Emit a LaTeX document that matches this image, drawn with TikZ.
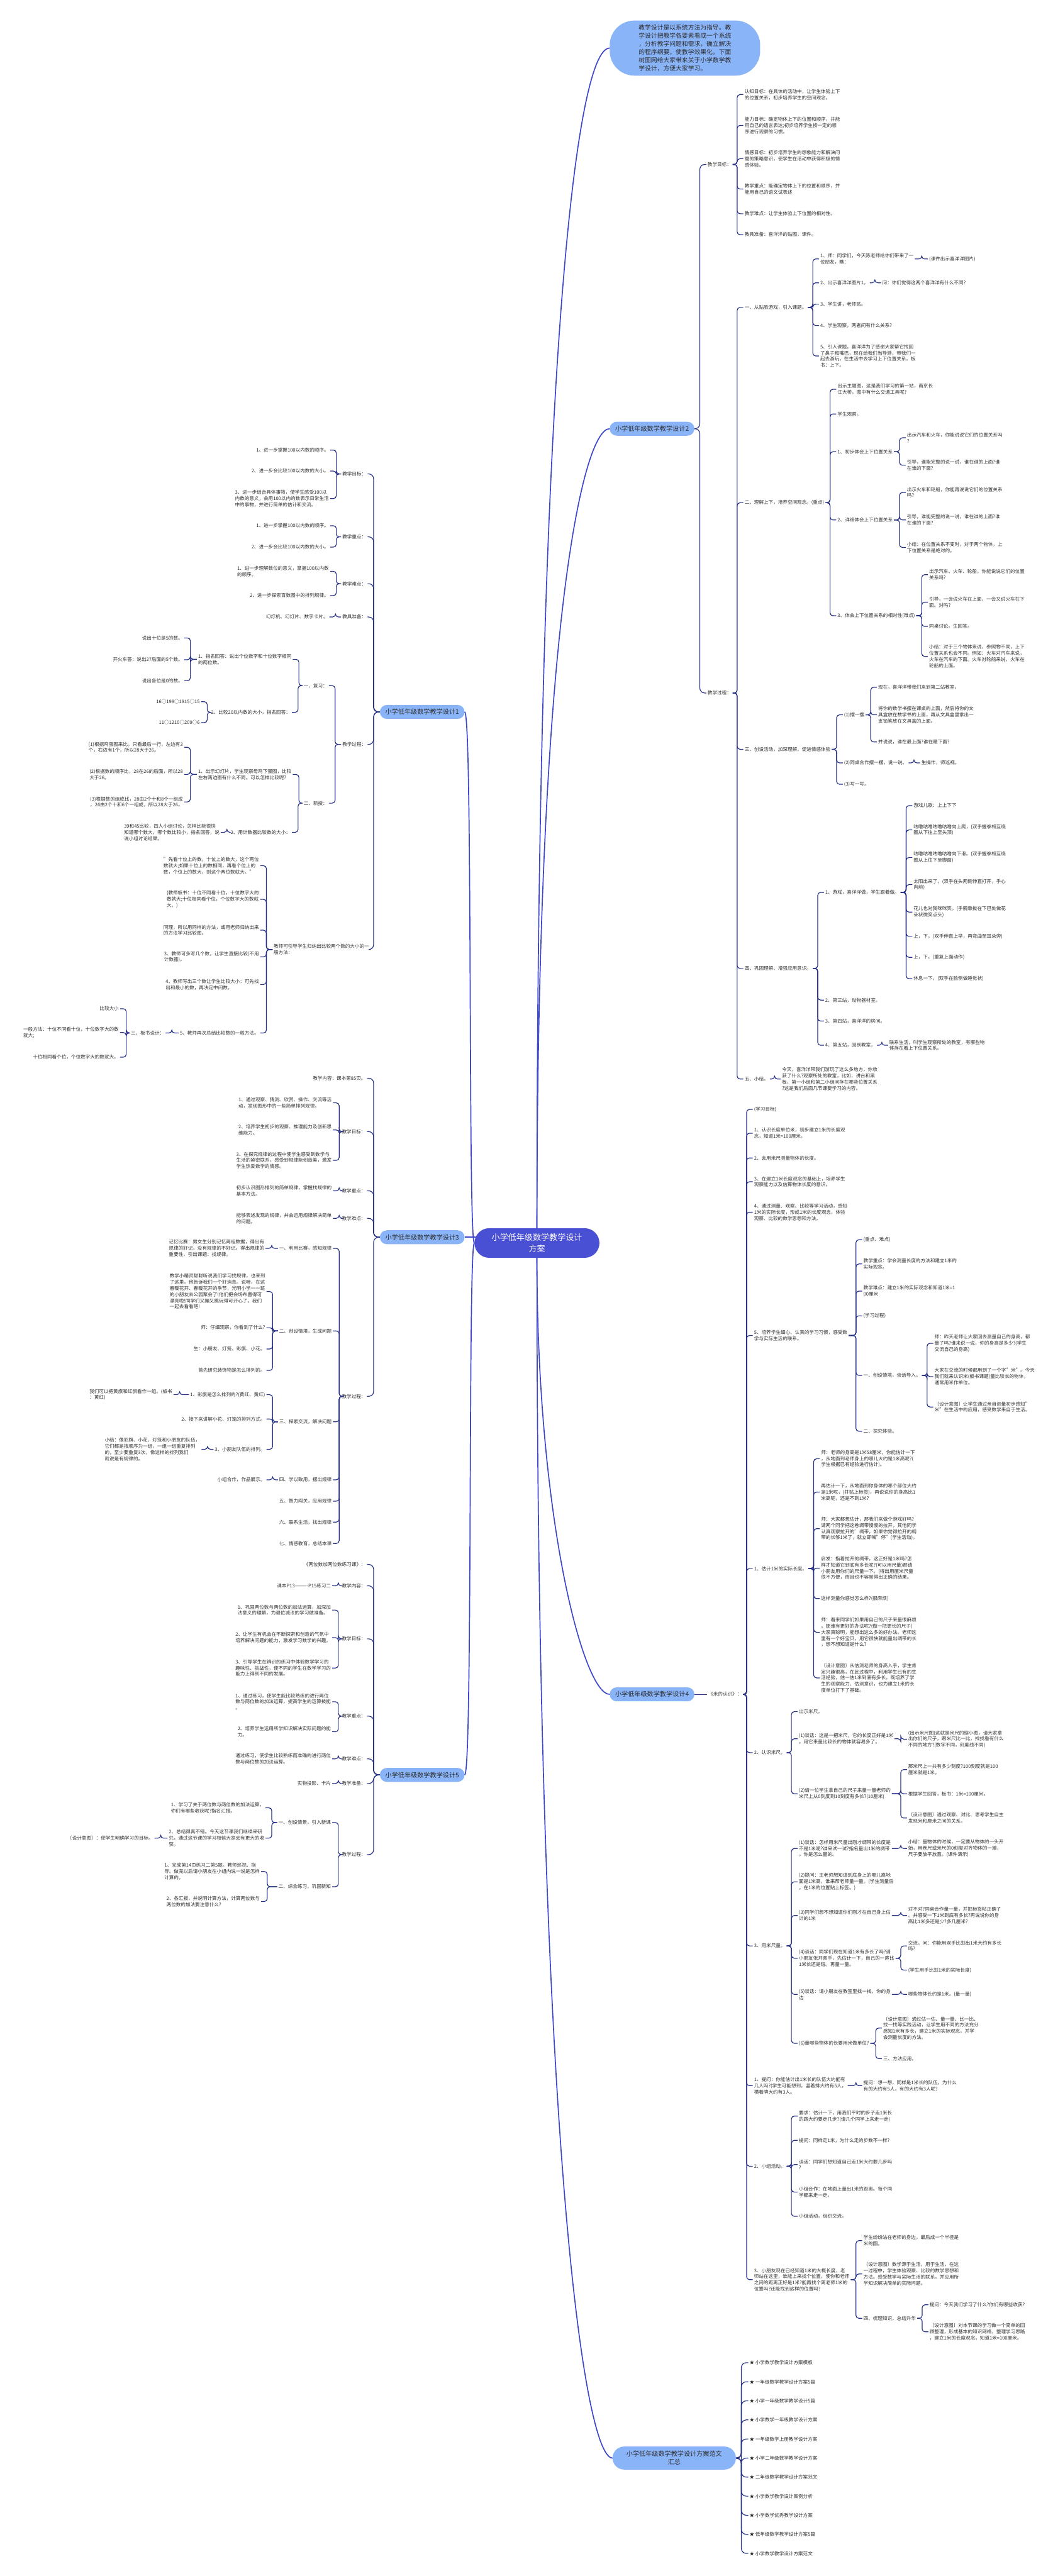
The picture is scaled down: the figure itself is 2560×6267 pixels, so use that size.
\documentclass[tikz,border=0pt]{standalone}
\usepackage{fontspec}
\setmainfont{Noto Sans CJK SC}
\usetikzlibrary{calc}

\definecolor{linec}{RGB}{38,48,135}
\definecolor{trunkc}{RGB}{62,72,200}
\definecolor{bubc}{RGB}{138,180,248}
\definecolor{rootc}{RGB}{74,80,212}
\definecolor{txtc}{RGB}{45,45,45}

% connectors, parent left of child / parent right of child
\newcommand\lnkR[2]{\draw[conn] let \p1=(#1.east), \p2=(#2.west) in (\p1) -- (\x2-15pt,\y1) |- (\p2);}
\newcommand\lnkL[2]{\draw[conn] let \p1=(#1.west), \p2=(#2.east) in (\p1) -- (\x2+15pt,\y1) |- (\p2);}
\newcommand\bubR[2]{\draw[conn,rounded corners=12pt] let \p1=(#1.east), \p2=(#2.west) in (\p1) -- (\x1+13pt,\y1) |- (\p2);}
\newcommand\bubL[2]{\draw[conn,rounded corners=12pt] let \p1=(#1.west), \p2=(#2.east) in (\p1) -- (\x1-15pt,\y1) |- (\p2);}

\tikzset{
  txt/.style={anchor=west, align=left, inner xsep=3pt, inner ysep=1pt, text=txtc, font=\fontsize{11.6}{15}\selectfont},
  ltxt/.style={txt, anchor=east},
  bub/.style={fill=bubc, rounded corners=17pt, minimum width=206pt, minimum height=34pt, inner sep=0pt, text=txtc, font=\fontsize{15.5}{20}\selectfont},
  conn/.style={draw=linec, line width=1.8pt, rounded corners=7pt},
  trunk/.style={draw=trunkc, line width=2.6pt},
}

\begin{document}
\begin{tikzpicture}[x=1pt,y=-1pt]
\fill[white] (0,0) rectangle (2560,6267);
\useasboundingbox (0,0) rectangle (2560,6267);

% centre and intro
\node[fill=rootc, text=white, rounded corners=36pt, minimum width=304pt, minimum height=72pt, align=center, font=\fontsize{20}{27}\selectfont] (root) at (1306,3024) {小学低年级数学教学设计\\方案};
\node[fill=bubc, rounded corners=60pt, minimum width=366pt, minimum height=134pt, align=left, text=txtc, font=\fontsize{15}{20}\selectfont] (intro) at (1666,117) {教学设计是以系统方法为指导。教\\学设计把教学各要素看成一个系统\\，分析教学问题和需求，确立解决\\的程序纲要，使教学效果化。下面\\树图网给大家带来关于小学数学教\\学设计，方便大家学习。};

\node[bub] (b1) at (1027,1732) {小学低年级数学教学设计1};
\node[bub] (b2) at (1586,1043) {小学低年级数学教学设计2};
\node[bub] (b3) at (1027,3010) {小学低年级数学教学设计3};
\node[bub] (b4) at (1586,4122) {小学低年级数学教学设计4};
\node[bub] (b5) at (1027,4318) {小学低年级数学教学设计5};
\node[bub, align=center, minimum width=300pt, minimum height=56pt, rounded corners=28pt] (b6) at (1640,5980) {小学低年级数学教学设计方案范文\\汇总};

\draw[trunk] (root.north) .. controls (1306,900) and (1400,117) .. (intro.west);
\draw[trunk] (root.north) .. controls (1306,1500) and (1420,1043) .. (b2.west);
\draw[trunk] (root.south) .. controls (1306,3700) and (1420,4122) .. (b4.west);
\draw[trunk] (root.south) .. controls (1306,5200) and (1420,5980) .. (b6.west);
\draw[trunk] (b3.east) -- (1157,3010);
\draw[trunk] (root.west) .. controls (1138,3024) and (1150,1732) .. (b1.east);
\draw[trunk] (root.west) .. controls (1138,3024) and (1150,4318) .. (b5.east);

% ---- design 2 ----
\node[txt] (g2) at (1718,400) {教学目标：};
\node[txt] (g2a) at (1808,230) {认知目标：在具体的活动中，让学生体验上下\\的位置关系，初步培养学生的空间观念。};
\node[txt] (g2b) at (1808,305) {能力目标：确定物体上下的位置和顺序，并能\\用自己的语言表达;初步培养学生按一定的顺\\序进行观察的习惯。};
\node[txt] (g2c) at (1808,386) {情感目标：初步培养学生的想象能力和解决问\\题的策略意识，使学生在活动中获得积极的情\\感体验。};
\node[txt] (g2d) at (1808,460) {教学重点：能确定物体上下的位置和顺序，并\\能用自己的语文试表述};
\node[txt] (g2e) at (1808,520) {教学难点：让学生体验上下位置的相对性。};
\node[txt] (g2f) at (1808,571) {教具准备：喜洋洋的贴图，课件。};
\node[txt] (p2) at (1718,1686) {教学过程：};
\node[txt] (p2a) at (1808,748) {一、从贴脸游戏，引入课题。};
\node[txt] (p2a1) at (1992,630) {1、师：同学们，今天陈老师给你们带来了一\\位朋友，瞧：};
\node[txt] (p2a1x) at (2257,630) {(课件出示喜洋洋图片)};
\node[txt] (p2a2) at (1992,688) {2、出示喜洋洋图片1。};
\node[txt] (p2a2x) at (2143,688) {问：你们觉得这两个喜洋洋有什么不同?};
\node[txt] (p2a3) at (1992,740) {3、学生讲，老师贴。};
\node[txt] (p2a4) at (1992,792) {4、学生观察，两者间有什么关系?};
\node[txt] (p2a5) at (1992,866) {5、引入课题，喜洋洋为了感谢大家帮它找回\\了鼻子和嘴巴，现在给我们当导游，带我们一\\起去游玩，在生活中去学习上下位置关系。板\\书：上下。};
\node[txt] (p2b) at (1808,1223) {二、理解上下，培养空间观念。(重点)};
\node[txt] (p2b1) at (2034,947) {出示主题图，这是我们学习的第一站，南京长\\江大桥，图中有什么交通工具呢?};
\node[txt] (p2b2) at (2034,1007) {学生观察。};
\node[txt] (p2b3) at (2034,1099) {1、初步体会上下位置关系};
\node[txt] (p2b3a) at (2203,1065) {出示汽车和火车，你能说说它们的位置关系吗\\?};
\node[txt] (p2b3b) at (2203,1132) {引导，谁能完整的说一说，谁在谁的上面?谁\\在谁的下面?};
\node[txt] (p2b4) at (2034,1265) {2、详细体会上下位置关系};
\node[txt] (p2b4a) at (2203,1198) {出示火车和轮船，你能再说说它们的位置关系\\吗?};
\node[txt] (p2b4b) at (2203,1265) {引导，谁能完整的说一说，谁在谁的上面?谁\\在谁的下面?};
\node[txt] (p2b4c) at (2203,1332) {小结：在位置关系不变时，对于两个物体，上\\下位置关系是绝对的。};
\node[txt] (p2b5) at (2034,1498) {3、体会上下位置关系的相对性(难点)};
\node[txt] (p2b5a) at (2257,1398) {出示汽车、火车、轮船，你能说说它们的位置\\关系吗?};
\node[txt] (p2b5b) at (2257,1465) {引导，一会说火车在上面，一会又说火车在下\\面。对吗?};
\node[txt] (p2b5c) at (2257,1524) {同桌讨论。生回答。};
\node[txt] (p2b5d) at (2257,1597) {小结：对于三个物体来说，参照物不同，上下\\位置关系也会不同。例如：火车对汽车来说，\\火车在汽车的下面。火车对轮船来说，火车在\\轮船的上面。};
\node[txt] (p2c) at (1808,1823) {三、创设活动，加深理解，促进情感体验};
\node[txt] (p2c1) at (2050,1739) {(1)摆一摆};
\node[txt] (p2c1a) at (2133,1672) {现在，喜洋洋带我们来到第二站教室。};
\node[txt] (p2c1b) at (2133,1739) {将你的数学书摆在课桌的上面，然后将你的文\\具盒放在数学书的上面，再从文具盒里拿出一\\支铅笔放在文具盒的上面。};
\node[txt] (p2c1c) at (2133,1805) {并说说，谁在最上面?谁在最下面?};
\node[txt] (p2c2) at (2050,1856) {(2)同桌合作摆一摆，说一说。};
\node[txt] (p2c2x) at (2238,1856) {生操作，师巡视。};
\node[txt] (p2c3) at (2050,1908) {(3)写一写。};
\node[txt] (p2d) at (1808,2356) {四、巩固理解、增强应用意识。};
\node[txt] (p2d1) at (2004,2171) {1、游戏，喜洋洋做，学生跟着做。};
\node[txt] (p2d1a) at (2219,1960) {游戏儿歌：上上下下};
\node[txt] (p2d1b) at (2219,2019) {咕噜咕噜咕噜咕噜向上爬，(双手握拳相互绕\\圈从下往上至头顶)};
\node[txt] (p2d1c) at (2219,2086) {咕噜咕噜咕噜咕噜向下滑。(双手握拳相互绕\\圈从上往下至脚面)};
\node[txt] (p2d1d) at (2219,2152) {太阳出来了，(双手在头两侧伸直打开，手心\\向前)};
\node[txt] (p2d1e) at (2219,2219) {花儿也对我咪咪笑。(手腕靠拢在下巴处做花\\朵状微笑点头)};
\node[txt] (p2d1f) at (2219,2278) {上，下，(双手伸直上举，再弯曲至耳朵旁)};
\node[txt] (p2d1g) at (2219,2329) {上，下，(重复上面动作)};
\node[txt] (p2d1h) at (2219,2381) {休息一下。(双手在脸侧做睡觉状)};
\node[txt] (p2d2) at (2004,2433) {2、第三站，动物器材室。};
\node[txt] (p2d3) at (2004,2484) {3、第四站，喜洋洋的房间。};
\node[txt] (p2d4) at (2004,2543) {4、第五站，回到教室。};
\node[txt] (p2d4x) at (2160,2543) {联系生活，叫学生观察所处的教室，有哪些物\\体存在着上下位置关系。};
\node[txt] (p2e) at (1808,2625) {五、小结。};
\node[txt] (p2ex) at (1899,2625) {今天，喜洋洋带我们游玩了这么多地方，你收\\获了什么?观察所处的教室，比如，讲台和黑\\板，第一小组和第二小组间存在哪些位置关系\\?这是我们后面几节课要学习的内容。};

\bubR{b2}{g2} \bubR{b2}{p2}
\foreach \c in {a,b,c,d,e,f} {\lnkR{g2}{g2\c}}
\foreach \c in {a,b,c,d,e} {\lnkR{p2}{p2\c}}
\foreach \c in {1,2,3,4,5} {\lnkR{p2a}{p2a\c}}
\lnkR{p2a1}{p2a1x} \lnkR{p2a2}{p2a2x}
\foreach \c in {1,2,3,4,5} {\lnkR{p2b}{p2b\c}}
\foreach \c in {a,b} {\lnkR{p2b3}{p2b3\c}}
\foreach \c in {a,b,c} {\lnkR{p2b4}{p2b4\c}}
\foreach \c in {a,b,c,d} {\lnkR{p2b5}{p2b5\c}}
\foreach \c in {1,2,3} {\lnkR{p2c}{p2c\c}}
\foreach \c in {a,b,c} {\lnkR{p2c1}{p2c1\c}}
\lnkR{p2c2}{p2c2x}
\foreach \c in {1,2,3,4} {\lnkR{p2d}{p2d\c}}
\foreach \c in {a,b,c,d,e,f,g,h} {\lnkR{p2d1}{p2d1\c}}
\lnkR{p2d4}{p2d4x} \lnkR{p2e}{p2ex}

% ---- design 4 ----
\node[txt] (m4) at (1720,4122) {《米的认识》：};
\node[txt] (m4a) at (1831,2699) {(学习目标)};
\node[txt] (m4b) at (1831,2757) {1、认识长度单位米，初步建立1米的长度观\\念，知道1米=100厘米。};
\node[txt] (m4c) at (1831,2817) {2、会用米尺测量物体的长度。};
\node[txt] (m4d) at (1831,2875) {3、在建立1米长度观念的基础上，培养学生\\观察能力以及估算物体长度的意识。};
\node[txt] (m4e) at (1831,2949) {4、通过测量、观察、比较等学习活动，感知\\1米的实际长度，形成1米的长度观念，体验\\观察、比较的数学思想和方法。};
\node[txt] (m4f) at (1831,3249) {5、培养学生细心、认真的学习习惯，感受数\\学与实际生活的联系。};
\node[txt] (m4f1) at (2097,3016) {(重点、难点)};
\node[txt] (m4f2) at (2097,3075) {教学重点：学会测量长度的方法和建立1米的\\实际观念。};
\node[txt] (m4f3) at (2097,3141) {教学难点：建立1米的实际观念和知道1米=1\\00厘米};
\node[txt] (m4f4) at (2097,3201) {(学习过程)};
\node[txt] (m4f5) at (2097,3346) {一、创设情境，谈话导入。};
\node[txt] (m4f5a) at (2270,3268) {师：昨天老师让大家回去测量自己的身高，都\\量了吗?谁来说一说，你的身高是多少?(学生\\交流自己的身高)};
\node[txt] (m4f5b) at (2270,3349) {大家在交流的时候都用到了一个字"米"。今天\\我们就来认识米(板书课题)量比较长的物体，\\通常用米作单位。};
\node[txt] (m4f5c) at (2270,3423) {〔设计意图〕让学生通过亲自测量初步感知"\\米"在生活中的应用，感受数学来自于生活。};
\node[txt] (m4f6) at (2097,3482) {二、探究体验。};
\node[txt] (m4g) at (1831,3816) {1、估计1米的实际长度。};
\node[txt] (m4g1) at (1994,3549) {师：老师的身高是1米58厘米，你能估计一下\\，从地面到老师身上的哪儿大约是1米高呢?(\\学生根据已有经验进行估计)。};
\node[txt] (m4g2) at (1994,3630) {再估计一下，从地面到你身体的哪个部位大约\\是1米呢，(并贴上标签)，再说说你的身高比1\\米高呢，还是不到1米?};
\node[txt] (m4g3) at (1994,3719) {师：大家都想估计，那我们来做个游戏好吗?\\请两个同学把这卷绸带慢慢的拉开，其他同学\\认真观察拉开的'绸带，如果你觉得拉开的绸\\带的长够1米了，就立即喊"停"(学生活动)。};
\node[txt] (m4g4) at (1994,3815) {启发：指着拉开的绸带，这正好是1米吗?怎\\样才知道它到底有多长呢?(可以用尺量)那请\\小朋友用你们的尺量一下。(得出用厘米尺量\\很不方便，而且也不容易得出正确的结果。};
\node[txt] (m4g5) at (1994,3889) {这样测量你感觉怎么样?(很麻烦)};
\node[txt] (m4g6) at (1994,3971) {师：看来同学们如果用自己的尺子来量很麻烦\\。那谁有更好的办法呢?(做一把更长的尺子)\\大家真聪明，能想出这么多的好办法。老师这\\里有一个好宝贝，用它很快就能量出绸带的长\\，想不想知道是什么?};
\node[txt] (m4g7) at (1994,4082) {〔设计意图〕从估测老师的身高入手，学生肯\\定兴趣很高，在此过程中，利用学生已有的生\\活经验，估一估1米到底有多长，既培养了学\\生的观察能力、估测意识，也为建立1米的长\\度单位打下了基础。};
\node[txt] (m4h) at (1831,4264) {2、认识米尺。};
\node[txt] (m4h1) at (1940,4164) {出示米尺。};
\node[txt] (m4h2) at (1940,4230) {(1)谈话：这是一把米尺，它的长度正好是1米\\。用它来量比较长的物体就容易多了。};
\node[txt] (m4h2x) at (2206,4231) {(出示米尺图)这就是米尺的缩小图，请大家拿\\出你们的尺子，跟米尺比一比，找找看有什么\\不同的地方?(数字不同，刻度线不同)};
\node[txt] (m4h3) at (1940,4364) {(2)请一位学生拿自己的尺子来量一量老师的\\米尺上从0刻度到10刻度有多长?(10厘米)};
\node[txt] (m4h3a) at (2206,4305) {那米尺上一共有多少刻度?100刻度就是100\\厘米就是1米。};
\node[txt] (m4h3b) at (2206,4364) {根据学生回答，板书：1米=100厘米。};
\node[txt] (m4h3c) at (2206,4423) {〔设计意图〕通过观察、对比、思考学生自主\\发现米和厘米之间的关系。};
\node[txt] (m4i) at (1831,4734) {3、用米尺量。};
\node[txt] (m4i1) at (1940,4497) {(1)谈话：怎样用米尺量出刚才绸带的长度是\\不是1米呢?谁来试一试?指名量出1米的绸带\\。你是怎么量的。};
\node[txt] (m4i1x) at (2206,4497) {小结：量物体的时候，一定要从物体的一头开\\始，用卷尺或米尺的0刻度对齐物体的一端，\\尺子要放平放直。(课件演示)};
\node[txt] (m4i2) at (1940,4578) {(2)提问：王老师想知道到底身上的哪儿离地\\面是1米高，谁来帮老师量一量。(学生测量后\\，在1米的位置贴上标签。)};
\node[txt] (m4i3) at (1940,4660) {(3)同学们想不想知道你们刚才在自己身上估\\计的1米};
\node[txt] (m4i3x) at (2206,4660) {对不对?同桌合作量一量，并把标签帖正确了\\。并感受一下1米到底有多长?再说说你的身\\高比1米多还是少?多几厘米?};
\node[txt] (m4i4) at (1940,4764) {(4)谈话：同学们现在知道1米有多长了吗?请\\小朋友张开双手，先估计一下，自己的一庹比\\1米长还是短。再量一量。};
\node[txt] (m4i4a) at (2206,4734) {交流。问：你能用双手比划出1米大约有多长\\吗?};
\node[txt] (m4i4b) at (2206,4793) {(学生用手比划1米的实际长度)};
\node[txt] (m4i5) at (1940,4852) {(5)谈话：请小朋友在教室里找一找，你的身\\边};
\node[txt] (m4i5x) at (2206,4852) {哪些物体长约是1米。(量一量)};
\node[txt] (m4i6) at (1940,4971) {(6)量哪些物体的长要用米做单位?};
\node[txt] (m4i6a) at (2145,4934) {〔设计意图〕通过估一估、量一量、比一比、\\找一找等实践活动，让学生用不同的方法充分\\感知1米有多长，建立1米的实际观念，并学\\会测量长度的方法。};
\node[txt] (m4i6b) at (2145,5008) {三、方法应用。};
\node[txt] (m4j) at (1831,5074) {1、提问：你能估计出1米长的队伍大约能有\\几人吗?(学生可能想到，竖着排大约有5人，\\横着牌大约有3人。};
\node[txt] (m4jx) at (2097,5074) {提问：想一想，同样是1米长的队伍，为什么\\有的大约有5人，有的大约有3人呢?};
\node[txt] (m4k) at (1831,5270) {2、小组活动。};
\node[txt] (m4k1) at (1940,5148) {要求：估计一下，用我们平时的步子走1米长\\的路大约要走几步?(请几个同学上来走一走)};
\node[txt] (m4k2) at (1940,5207) {提问：同样走1米，为什么走的步数不一样?};
\node[txt] (m4k3) at (1940,5266) {谈话：同学们想知道自己走1米大约要几步吗\\?};
\node[txt] (m4k4) at (1940,5333) {小组合作：在地面上量出1米的距离。每个同\\学都来走一走。};
\node[txt] (m4k5) at (1940,5392) {小组活动，组织交流。};
\node[txt] (m4l) at (1831,5546) {3、小朋友现在已经知道1米的大概长度，老\\师站在这里，谁能上来找个位置，使你和老师\\之间的距离正好是1米?能再找个离老师1米的\\位置吗?还能找到这样的位置吗?};
\node[txt] (m4l1) at (2097,5451) {学生纷纷站在老师的身边，最后成一个半径是\\米的圆。};
\node[txt] (m4l2) at (2097,5532) {〔设计意图〕数学源于生活，用于生活，在这\\一过程中，学生体验观察、比较的数学思想和\\方法。感受数学与实际生活的联系。并应用所\\学知识解决简单的实际问题。};
\node[txt] (m4l3) at (2097,5640) {四、梳理知识，总结升华};
\node[txt] (m4l3a) at (2258,5607) {提问：今天我们学习了什么?你们有哪些收获?};
\node[txt] (m4l3b) at (2258,5673) {〔设计意图〕对本节课的学习做一个简单的回\\顾整理，形成基本的知识网络，整理学习思路\\，建立1米的长度观念，知道1米=100厘米。};

\draw[conn] (b4.east) -- (m4.west);
\foreach \c in {a,b,c,d,e,f,g,h,i,j,k,l} {\lnkR{m4}{m4\c}}
\foreach \c in {1,2,3,4,5,6} {\lnkR{m4f}{m4f\c}}
\foreach \c in {a,b,c} {\lnkR{m4f5}{m4f5\c}}
\foreach \c in {1,2,3,4,5,6,7} {\lnkR{m4g}{m4g\c}}
\foreach \c in {1,2,3} {\lnkR{m4h}{m4h\c}}
\lnkR{m4h2}{m4h2x}
\foreach \c in {a,b,c} {\lnkR{m4h3}{m4h3\c}}
\foreach \c in {1,2,3,4,5,6} {\lnkR{m4i}{m4i\c}}
\lnkR{m4i1}{m4i1x} \lnkR{m4i3}{m4i3x} \lnkR{m4i5}{m4i5x}
\foreach \c in {a,b} {\lnkR{m4i4}{m4i4\c} \lnkR{m4i6}{m4i6\c}}
\lnkR{m4j}{m4jx}
\foreach \c in {1,2,3,4,5} {\lnkR{m4k}{m4k\c}}
\foreach \c in {1,2,3} {\lnkR{m4l}{m4l\c}}
\foreach \c in {a,b} {\lnkR{m4l3}{m4l3\c}}

% ---- design 6, list ----
\foreach \t [count=\i] in {小学数学教学设计方案模板,一年级数学教学设计方案5篇,小学一年级数学教学设计5篇,小学数学一年级教学设计方案,一年级数学上册教学设计方案,小学二年级数学教学设计方案,二年级数学教学设计方案范文,小学数学教学设计案例分析,小学数学优秀教学设计方案,低年级数学教学设计方案5篇,小学数学教学设计方案范文}
  {\node[txt] (f6\i) at (1820,{5748+46.4*(\i-1)}) {★ \t};}
\foreach \i in {1,...,11} {\bubR{b6}{f6\i}}

% ---- design 1 ----
\node[ltxt] (c1a) at (894,1153) {教学目标：};
\node[ltxt] (c1a1) at (803,1095) {1、进一步掌握100以内数的顺序。};
\node[ltxt] (c1a2) at (803,1146) {2、进一步会比较100以内数的大小。};
\node[ltxt] (c1a3) at (803,1213) {3、进一步结合具体事物，使学生感受100以\\内数的意义，会用100以内的数表示日常生活\\中的事物，并进行简单的估计和交流。};
\node[ltxt] (c1b) at (894,1306) {教学重点：};
\node[ltxt] (c1b1) at (803,1279) {1、进一步掌握100以内数的顺序。};
\node[ltxt] (c1b2) at (803,1331) {2、进一步会比较100以内数的大小。};
\node[ltxt] (c1c) at (894,1420) {教学难点：};
\node[ltxt] (c1c1) at (803,1390) {1、进一步理解数位的意义，掌握100以内数\\的顺序。};
\node[ltxt] (c1c2) at (803,1449) {2、进一步探索百数图中的排列规律。};
\node[ltxt] (c1d) at (894,1501) {教具准备：};
\node[ltxt] (c1dx) at (801,1501) {幻灯机、幻灯片、数字卡片。};
\node[ltxt] (c1e) at (894,1811) {教学过程：};
\node[ltxt] (c1e1) at (800,1668) {一、复习：};
\node[ltxt] (c1e1a) at (712,1604) {1、指名回答：说出个位数字和十位数字相同\\的两位数。};
\node[ltxt] (c1e1a1) at (448,1552) {说出十位是5的数。};
\node[ltxt] (c1e1a2) at (448,1605) {开火车答：说出27后面的5个数。};
\node[ltxt] (c1e1a3) at (448,1656) {说出各位是0的数。};
\node[ltxt] (c1e1b) at (710,1733) {2、比较20以内数的大小，指名回答：};
\node[ltxt] (c1e1b1) at (489,1707) {16○198○1815○15};
\node[ltxt] (c1e1b2) at (489,1758) {11○1210○209○6};
\node[ltxt] (c1e2) at (800,1954) {二、新授：};
\node[ltxt] (c1e2a) at (712,1884) {1、出示幻灯片，学生观察母鸡下蛋图，比较\\左右两边图有什么不同。可以怎样比较呢?};
\node[ltxt] (c1e2a1) at (448,1818) {(1)根据鸡蛋图来比，只看最后一行，左边有3\\个，右边有1个，所以28大于26。};
\node[ltxt] (c1e2a2) at (448,1884) {(2)根据数的顺序比，28在26的后面，所以28\\大于26。};
\node[ltxt] (c1e2a3) at (448,1951) {(3)根据数的组成比，28由2个十和8个一组成\\，26由2个十和6个一组成，所以28大于26。};
\node[ltxt] (c1e2b) at (710,2025) {2、用计数器比较数的大小：};
\node[ltxt] (c1e2bx) at (537,2025) {39和45比较，四人小组讨论，怎样比能很快\\知道哪个数大，哪个数比较小，指名回答，说\\说小组讨论结果。};
\node[ltxt] (c1f) at (901,2310) {教师可引导学生归纳出比较两个数的大小的一\\般方法：};
\node[ltxt] (c1f1) at (633,2106) {"先看十位上的数，十位上的数大，这个两位\\数就大;如果十位上的数相同，再看个位上的\\数，个位上的数大，则这个两位数就大。"};
\node[ltxt] (c1f2) at (633,2188) {(教师板书：十位不同看十位，十位数字大的\\数就大;十位相同看个位，个位数字大的数就\\大。)};
\node[ltxt] (c1f3) at (633,2263) {同理，所以用同样的方法，或用老师归纳出来\\的方法学习比较图。};
\node[ltxt] (c1f4) at (633,2328) {3、教师可多写几个数，让学生直接比较(不用\\计数器)。};
\node[ltxt] (c1f5) at (633,2395) {4、教师写出三个数让学生比较大小：可先找\\出和最小的数，再决定中间数。};
\node[ltxt] (c1f6) at (633,2513) {5、教师再次总结比较数的一般方法。};
\node[ltxt] (c1f6x) at (403,2513) {三、板书设计：};
\node[ltxt] (c1g1) at (292,2454) {比较大小};
\node[ltxt] (c1g2) at (292,2512) {一般方法：十位不同看十位，十位数字大的数\\就大;};
\node[ltxt] (c1g3) at (292,2572) {十位相同看个位，个位数字大的数就大。};

\foreach \c in {a,b,c,d,e,f} {\bubL{b1}{c1\c}}
\foreach \c in {1,2,3} {\lnkL{c1a}{c1a\c}}
\foreach \c in {1,2} {\lnkL{c1b}{c1b\c} \lnkL{c1c}{c1c\c} \lnkL{c1e}{c1e\c}}
\lnkL{c1d}{c1dx}
\foreach \c in {a,b} {\lnkL{c1e1}{c1e1\c} \lnkL{c1e2}{c1e2\c}}
\foreach \c in {1,2,3} {\lnkL{c1e1a}{c1e1a\c} \lnkL{c1e2a}{c1e2a\c} \lnkL{c1f6x}{c1g\c}}
\foreach \c in {1,2} {\lnkL{c1e1b}{c1e1b\c}}
\lnkL{c1e2b}{c1e2bx}
\foreach \c in {1,2,3,4,5,6} {\lnkL{c1f}{c1f\c}}
\lnkL{c1f6}{c1f6x}

% ---- design 3 ----
\node[ltxt] (d3a) at (893,2623) {教学内容：课本第85页。};
\node[ltxt] (d3b) at (893,2753) {教学目标：};
\node[ltxt] (d3b1) at (810,2683) {1、通过观察、猜测、欣赏、操作、交流等活\\动，发现图形中的一些简单排列规律。};
\node[ltxt] (d3b2) at (810,2749) {2、培养学生初步的观察、推理能力及创新思\\维能力。};
\node[ltxt] (d3b3) at (810,2823) {3、在探究规律的过程中使学生感受到数学与\\生活的紧密联系，感受到规律能创造美，激发\\学生热爱数学的情感。};
\node[ltxt] (d3c) at (893,2897) {教学重点：};
\node[ltxt] (d3cx) at (810,2897) {初步认识图形排列的简单规律，掌握找规律的\\基本方法。};
\node[ltxt] (d3d) at (893,2964) {教学难点：};
\node[ltxt] (d3dx) at (810,2964) {能够表述发现的规律，并会运用规律解决简单\\的问题。};
\node[ltxt] (d3e) at (893,3397) {教学过程：};
\node[ltxt] (d3e1) at (810,3037) {一、利用比赛，感知规律};
\node[ltxt] (d3e1x) at (646,3037) {记忆比赛：男女生分别记忆两组数据，得出有\\规律的好记，没有规律的不好记。得出规律的\\重要性，引出课题：找规律。};
\node[ltxt] (d3e2) at (810,3238) {二、创设情境，生成问题};
\node[ltxt] (d3e2a) at (648,3142) {数学小精灵聪聪听说我们学习找规律，也来到\\了这里。他告诉我们一个好消息。说呀，在这\\春暖花开、春暖花开的季节，光明小学一一班\\的小朋友去公园聚会了!他们把会场布置得可\\漂亮啦!同学们又蹦又跳玩得可开心了。我们\\一起去看看吧!};
\node[ltxt] (d3e2b) at (648,3230) {师：仔细观察，你看到了什么?};
\node[ltxt] (d3e2c) at (648,3282) {生：小朋友、灯笼、彩旗、小花。};
\node[ltxt] (d3e2d) at (648,3334) {首先研究装饰物是怎么排列的。};
\node[ltxt] (d3e3) at (810,3459) {三、探索交流，解决问题};
\node[ltxt] (d3e3a) at (648,3393) {1、彩旗是怎么排列的?(黄红、黄红)};
\node[ltxt] (d3e3ax) at (422,3393) {我们可以把黄旗和红旗看作一组。(板书\\：黄红)};
\node[ltxt] (d3e3b) at (648,3452) {2、接下来讲解小花、灯笼的排列方式。};
\node[ltxt] (d3e3c) at (648,3526) {3、小朋友队伍的排列。};
\node[ltxt] (d3e3cx) at (490,3526) {小结：像彩旗、小花、灯笼和小朋友的队伍，\\它们都是按顺序为一组，一组一组重复排列\\的，至少要重复3次，像这样的排列我们\\就说是有规律的。};
\node[ltxt] (d3e4) at (810,3600) {四、学以致用，摆出规律};
\node[ltxt] (d3e4x) at (648,3600) {小组合作，作品展示。};
\node[ltxt] (d3e5) at (810,3652) {五、智力闯关，应用规律};
\node[ltxt] (d3e6) at (810,3703) {六、联系生活，找出规律};
\node[ltxt] (d3e7) at (810,3755) {七、情感教育，总结本课};

\foreach \c in {a,b,c,d,e} {\bubL{b3}{d3\c}}
\foreach \c in {1,2,3} {\lnkL{d3b}{d3b\c}}
\lnkL{d3c}{d3cx} \lnkL{d3d}{d3dx}
\foreach \c in {1,2,3,4,5,6,7} {\lnkL{d3e}{d3e\c}}
\lnkL{d3e1}{d3e1x}
\foreach \c in {a,b,c,d} {\lnkL{d3e2}{d3e2\c}}
\foreach \c in {a,b,c} {\lnkL{d3e3}{d3e3\c}}
\lnkL{d3e3a}{d3e3ax} \lnkL{d3e3c}{d3e3cx} \lnkL{d3e4}{d3e4x}

% ---- design 5 ----
\node[ltxt] (e5a) at (893,3806) {《两位数加两位数练习课》：};
\node[ltxt] (e5b) at (893,3858) {教学内容：};
\node[ltxt] (e5bx) at (808,3858) {课本P13———-P15练习二};
\node[ltxt] (e5c) at (893,3987) {教学目标：};
\node[ltxt] (e5c1) at (808,3917) {1、巩固两位数与两位数的加法运算，加深加\\法意义的理解，为退位减法的学习做准备。};
\node[ltxt] (e5c2) at (808,3984) {2、让学生有机会在不断探索和创造的气氛中\\培养解决问题的能力，激发学习数学的兴趣。};
\node[ltxt] (e5c3) at (808,4058) {3、引导学生在辨识的练习中体验数学学习的\\趣味性、挑战性，使不同的学生在数学学习的\\能力上得到不同的发展。};
\node[ltxt] (e5d) at (893,4175) {教学重点：};
\node[ltxt] (e5d1) at (808,4140) {1、通过练习，使学生能比较熟练的进行两位\\数与两位数的加法运算，提高学生的运算技能\\。};
\node[ltxt] (e5d2) at (808,4213) {2、培养学生运用所学知识解决实际问题的能\\力。};
\node[ltxt] (e5e) at (893,4279) {教学难点：};
\node[ltxt] (e5ex) at (808,4279) {通过练习，使学生比较熟练而准确的进行两位\\数与两位数的加法运算。};
\node[ltxt] (e5f) at (893,4339) {教学准备：};
\node[ltxt] (e5fx) at (808,4339) {实物投影、卡片};
\node[ltxt] (e5g) at (893,4512) {教学过程：};
\node[ltxt] (e5g1) at (808,4434) {一、创设情景，引入新课};
\node[ltxt] (e5g1a) at (646,4398) {1、学习了关于两位数与两位数的加法运算。\\你们有哪些收获呢?指名汇报。};
\node[ltxt] (e5g1b) at (646,4472) {2、总结得真不错。今天这节课我们继续来研\\究，通过这节课的学习相信大家会有更大的收\\获。};
\node[ltxt] (e5g1bx) at (376,4472) {〔设计意图〕：使学生明确学习的目标。};
\node[ltxt] (e5g2) at (808,4590) {二、综合练习，巩固新知};
\node[ltxt] (e5g2a) at (635,4553) {1、完成第14页练习二第5题。教师巡视、指\\导。做完以后请小朋友在小组内说一说是怎样\\计算的。};
\node[ltxt] (e5g2b) at (635,4626) {2、各汇报，并说明计算方法，计算两位数与\\两位数的加法要注意什么?};

\foreach \c in {a,b,c,d,e,f,g} {\bubL{b5}{e5\c}}
\lnkL{e5b}{e5bx} \lnkL{e5e}{e5ex} \lnkL{e5f}{e5fx}
\foreach \c in {1,2,3} {\lnkL{e5c}{e5c\c}}
\foreach \c in {1,2} {\lnkL{e5d}{e5d\c} \lnkL{e5g}{e5g\c}}
\foreach \c in {a,b} {\lnkL{e5g1}{e5g1\c} \lnkL{e5g2}{e5g2\c}}
\lnkL{e5g1b}{e5g1bx}
\end{tikzpicture}
\end{document}
